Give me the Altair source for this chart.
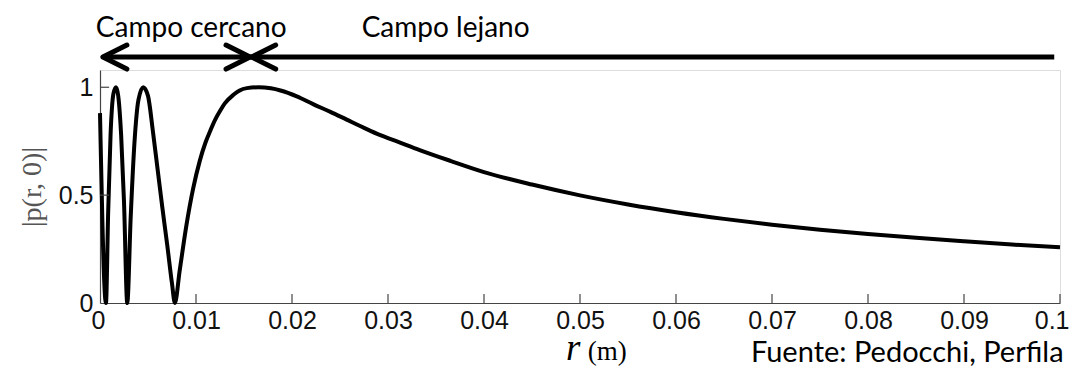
import altair as alt
import pandas as pd

# curve |p(r,0)|
r_vals = [0, 0.00062, 0.00085, 0.0011, 0.0014, 0.00167, 0.0019, 0.0022, 0.0025, 0.00284,
          0.0032, 0.0036, 0.004, 0.0045, 0.005, 0.0055, 0.006, 0.0065, 0.007, 0.0075, 0.0078,
          0.0083, 0.009, 0.0097, 0.0104, 0.011, 0.0115, 0.012, 0.0125, 0.013, 0.0139, 0.0145,
          0.0153, 0.0165, 0.0178, 0.0188, 0.0205, 0.0222, 0.024, 0.0257, 0.0275, 0.0292,
          0.031, 0.0333, 0.0365, 0.04, 0.045, 0.05, 0.055, 0.06, 0.065, 0.07,
          0.075, 0.08, 0.085, 0.09, 0.095, 0.1]
p_vals = [0.88, 0.0, 0.42, 0.78, 0.97, 1.0, 0.96, 0.78, 0.47, 0.0,
          0.40, 0.75, 0.94, 1.0, 0.96, 0.80, 0.62, 0.44, 0.27, 0.09, 0.0,
          0.15, 0.36, 0.53, 0.66, 0.745, 0.80, 0.85, 0.89, 0.925, 0.965, 0.984,
          0.996, 1.0, 0.995, 0.985, 0.958, 0.922, 0.886, 0.85, 0.812, 0.778,
          0.748, 0.709, 0.659, 0.607, 0.549, 0.499, 0.457, 0.421, 0.39, 0.363,
          0.34, 0.32, 0.302, 0.286, 0.271, 0.258]

x_tick_values = [0, 0.01, 0.02, 0.03, 0.04, 0.05, 0.06, 0.07, 0.08, 0.09, 0.1]
y_tick_values = [0, 0.5, 1]

# annotation: near / far field arrows
arrow_start = [0.0003]
arrow_end = [0.0994]
arrow_y = [1.14]
head_left_r = [0.0003, 0.0158]
head_right_r = [0.01563]

label_texts = ["Campo cercano", "Campo lejano"]
label_r = [0.0095, 0.0360]
label_y = [1.27, 1.27]

source_text = ["Fuente: Pedocchi, Perfila"]
source_r = [0.0678]
source_y = [-0.275]

xs = alt.Scale(domain=[0, 0.1], nice=False, zero=False)
ys = alt.Scale(domain=[0, 1.08], nice=False, zero=False)

curve_df = pd.DataFrame({"r": r_vals, "p": p_vals})

x_axis = alt.Axis(values=x_tick_values, format="~g", ticks=False, grid=False, title=None,
                  labelPadding=5, labelFlush=True, labelFlushOffset=9)
y_axis = alt.Axis(values=y_tick_values, format="~g", ticks=False, grid=False,
                  title="|p(r, 0)|", titlePadding=12, labelPadding=7)

curve = alt.Chart(curve_df).mark_line(color="black", strokeWidth=4, interpolate="monotone").encode(
    x=alt.X("r:Q", scale=xs, axis=x_axis, title=None),
    y=alt.Y("p:Q", scale=ys, axis=y_axis, title="|p(r, 0)|"),
)

# inward ticks
xt_df = pd.DataFrame({"r": x_tick_values[1:], "p": [0] * 10, "y1": [0.042] * 10})
xticks = alt.Chart(xt_df).mark_rule(color="#444", strokeWidth=1.2).encode(
    x=alt.X("r:Q", scale=xs), y=alt.Y("p:Q", scale=ys), y2="y1:Q")
yt_df = pd.DataFrame({"p": y_tick_values[1:], "r": [0, 0], "x1": [0.00095, 0.00095]})
yticks = alt.Chart(yt_df).mark_rule(color="#444", strokeWidth=1.2).encode(
    y=alt.Y("p:Q", scale=ys), x=alt.X("r:Q", scale=xs), x2="x1:Q")

arrow_df = pd.DataFrame({"r": arrow_start, "b": arrow_end, "p": arrow_y})
arrow = alt.Chart(arrow_df).mark_rule(color="black", strokeWidth=5).encode(
    x=alt.X("r:Q", scale=xs), x2="b:Q", y=alt.Y("p:Q", scale=ys))

hl_df = pd.DataFrame({"r": head_left_r, "p": arrow_y * 2})
heads_l = alt.Chart(hl_df).mark_point(
    shape="M2,-1L0,0L2,1", size=576, filled=False, strokeWidth=5, color="black",
    opacity=1, strokeCap="round", strokeJoin="round").encode(
    x=alt.X("r:Q", scale=xs), y=alt.Y("p:Q", scale=ys))
hr_df = pd.DataFrame({"r": head_right_r, "p": arrow_y})
heads_r = alt.Chart(hr_df).mark_point(
    shape="M-2,-1L0,0L-2,1", size=576, filled=False, strokeWidth=5, color="black",
    opacity=1, strokeCap="round", strokeJoin="round").encode(
    x=alt.X("r:Q", scale=xs), y=alt.Y("p:Q", scale=ys))

lab_df = pd.DataFrame({"t": label_texts, "r": label_r, "p": label_y})
labels = alt.Chart(lab_df).mark_text(font="Lato", fontSize=28, color="black",
                                     align="center", baseline="middle").encode(
    x=alt.X("r:Q", scale=xs), y=alt.Y("p:Q", scale=ys), text="t:N")

src_df = pd.DataFrame({"t": source_text, "r": source_r, "p": source_y})
source = alt.Chart(src_df).mark_text(font="Lato", fontSize=29, color="black",
                                     align="left", baseline="alphabetic").encode(
    x=alt.X("r:Q", scale=xs), y=alt.Y("p:Q", scale=ys), text="t:N")

xr_df = pd.DataFrame({"t": ["r"], "r": [0.0493], "p": [-0.262]})
xr = alt.Chart(xr_df).mark_text(font="Liberation Serif", fontSize=37, fontStyle="italic",
                                color="black", align="center", baseline="alphabetic").encode(
    x=alt.X("r:Q", scale=xs), y=alt.Y("p:Q", scale=ys), text="t:N")
xm_df = pd.DataFrame({"t": ["(m)"], "r": [0.0508], "p": [-0.262]})
xm = alt.Chart(xm_df).mark_text(font="Liberation Serif", fontSize=27,
                                color="black", align="left", baseline="alphabetic").encode(
    x=alt.X("r:Q", scale=xs), y=alt.Y("p:Q", scale=ys), text="t:N")

chart = alt.layer(curve, xticks, yticks, arrow, heads_l, heads_r, labels, source, xr, xm).properties(
    width=960, height=233,
    autosize=alt.AutoSizeParams(type="none"),
    padding={"left": 92, "top": 62, "right": 10, "bottom": 66},
).configure_view(stroke=None).configure(background="white").configure_axis(
    labelFont="Liberation Sans", labelFontSize=25, labelColor="#111",
    domainColor="#444", domainWidth=1.2,
    titleFont="Liberation Serif", titleFontSize=28, titleFontWeight="normal", titleColor="#555",
)

chart.save("out.html", embed_options={"renderer": "svg", "actions": False})
